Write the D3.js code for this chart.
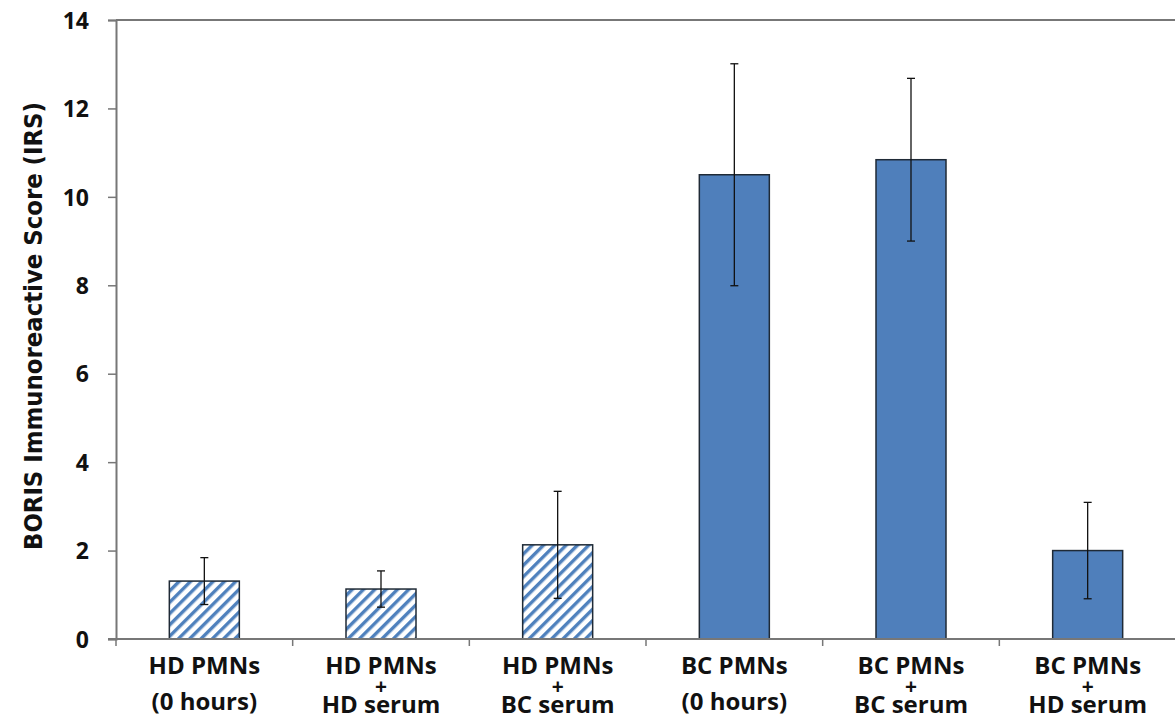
<!DOCTYPE html>
<html>
<head>
<meta charset="utf-8">
<script src="https://cdn.jsdelivr.net/npm/d3@7"></script>
<style>
  html, body { margin: 0; padding: 0; background: #fff; }
  svg { display: block; }
  .tick text { font-family: "Open Sans", "DejaVu Sans", sans-serif; font-weight: 700; }
</style>
</head>
<body>
<svg id="chart" width="1175" height="720"></svg>
<script>
// Group labels (each entry is a list of lines)
const categories = [
  ["HD PMNs", "(0 hours)"],
  ["HD PMNs", "+", "HD serum"],
  ["HD PMNs", "+", "BC serum"],
  ["BC PMNs", "(0 hours)"],
  ["BC PMNs", "+", "BC serum"],
  ["BC PMNs", "+", "HD serum"]
];
// Mean immunoreactive score and error (±) per group
const means  = [1.31, 1.13, 2.13, 10.50, 10.84, 2.00];
const errors = [0.53, 0.41, 1.21, 2.51, 1.84, 1.09];
// Healthy-donor PMN groups are drawn hatched, breast-cancer PMN groups solid
const hatched = [true, true, true, false, false, false];
const yTicks = [0, 2, 4, 6, 8, 10, 12, 14];
const yLabel = "BORIS Immunoreactive  Score (IRS)";

const svg = d3.select("#chart");
const margin = { left: 116, top: 20, right: 0, bottom: 81 };
const width = 1175 - margin.left - margin.right + 1;
const height = 720 - margin.top - margin.bottom;

const defs = svg.append("defs");
const pat = defs.append("pattern")
  .attr("id", "hatch")
  .attr("patternUnits", "userSpaceOnUse")
  .attr("width", 8).attr("height", 8)
  .attr("patternTransform", "rotate(45)");
pat.append("rect").attr("width", 8).attr("height", 8).attr("fill", "#fff");
pat.append("rect").attr("x", 0).attr("width", 3.4).attr("height", 8).attr("fill", "#4F81BD");

const g = svg.append("g").attr("transform", `translate(${margin.left},${margin.top})`);

const xOuter = d3.scaleBand().domain(d3.range(categories.length)).range([0, width]);
const y = d3.scaleLinear().domain([0, 14]).range([height, 0]);

// frame line across the top
g.append("line")
  .attr("x1", 0).attr("x2", width).attr("y1", y(14)).attr("y2", y(14))
  .attr("stroke", "#777").attr("stroke-width", 2);

// y axis
const yAxis = g.append("g")
  .call(d3.axisLeft(y).tickValues(yTicks).tickSize(8).tickPadding(19).tickFormat(d3.format("d")));
yAxis.select(".domain").attr("stroke", "#777").attr("stroke-width", 2);
yAxis.selectAll(".tick line").attr("stroke", "#777").attr("stroke-width", 1.5);
yAxis.selectAll(".tick text").attr("font-size", 23).attr("fill", "#111").attr("dy", "0.36em");

// bars
const bw = 70;
g.selectAll("rect.bar")
  .data(means)
  .join("rect")
  .attr("class", "bar")
  .attr("x", (d, i) => xOuter(i) + xOuter.bandwidth() / 2 - bw / 2)
  .attr("y", d => y(d))
  .attr("width", bw)
  .attr("height", d => y(0) - y(d))
  .attr("fill", (d, i) => hatched[i] ? "url(#hatch)" : "#4F7FBB")
  .attr("stroke", "#1f2a36")
  .attr("stroke-width", 1.5);

// error bars
const eb = g.selectAll("g.err").data(means).join("g").attr("class", "err")
  .attr("transform", (d, i) => `translate(${xOuter(i) + xOuter.bandwidth() / 2},0)`);
eb.append("line")
  .attr("y1", (d, i) => y(d + errors[i])).attr("y2", (d, i) => y(d - errors[i]))
  .attr("stroke", "#111").attr("stroke-width", 1.3);
eb.append("line")
  .attr("x1", -4).attr("x2", 4)
  .attr("y1", (d, i) => y(d + errors[i])).attr("y2", (d, i) => y(d + errors[i]))
  .attr("stroke", "#111").attr("stroke-width", 1.3);
eb.append("line")
  .attr("x1", -4).attr("x2", 4)
  .attr("y1", (d, i) => y(d - errors[i])).attr("y2", (d, i) => y(d - errors[i]))
  .attr("stroke", "#111").attr("stroke-width", 1.3);

// x axis baseline and boundary ticks
const xAxisG = g.append("g").attr("transform", `translate(0,${height})`);
xAxisG.append("line").attr("x1", -8).attr("x2", width).attr("stroke", "#777").attr("stroke-width", 2);
xAxisG.selectAll("line.bt")
  .data(d3.range(categories.length + 1))
  .join("line").attr("class", "bt")
  .attr("x1", i => i < categories.length ? xOuter(i) : width)
  .attr("x2", i => i < categories.length ? xOuter(i) : width)
  .attr("y1", 0).attr("y2", 7)
  .attr("stroke", "#777").attr("stroke-width", 1.5);

// category labels: main lines at full size, the "+" joiner slightly smaller between them
const font = "'Open Sans', 'DejaVu Sans', sans-serif";
const lab = xAxisG.selectAll("g.cat")
  .data(categories)
  .join("g").attr("class", "cat")
  .attr("transform", (d, i) => `translate(${xOuter(i) + xOuter.bandwidth() / 2},0)`);
lab.each(function(lines) {
  const t = d3.select(this);
  const ys = lines.length === 2 ? [35, 71] : [35, 55, 74];
  lines.forEach((s, k) => {
    const isPlus = s === "+";
    t.append("text")
      .attr("text-anchor", "middle")
      .attr("font-family", font)
      .attr("font-weight", 700)
      .attr("font-size", isPlus ? 21 : 24)
      .attr("fill", "#111")
      .attr("y", ys[k])
      .text(s);
  });
});

// y axis title
svg.append("text")
  .attr("transform", `translate(42,326) rotate(-90)`)
  .attr("text-anchor", "middle")
  .attr("font-family", "'Liberation Sans Narrow', 'DejaVu Sans Condensed', sans-serif")
  .attr("font-weight", 700)
  .attr("font-size", 24)
  .attr("fill", "#111")
  .attr("textLength", 448)
  .attr("lengthAdjust", "spacingAndGlyphs")
  .text(yLabel);
</script>
</body>
</html>
